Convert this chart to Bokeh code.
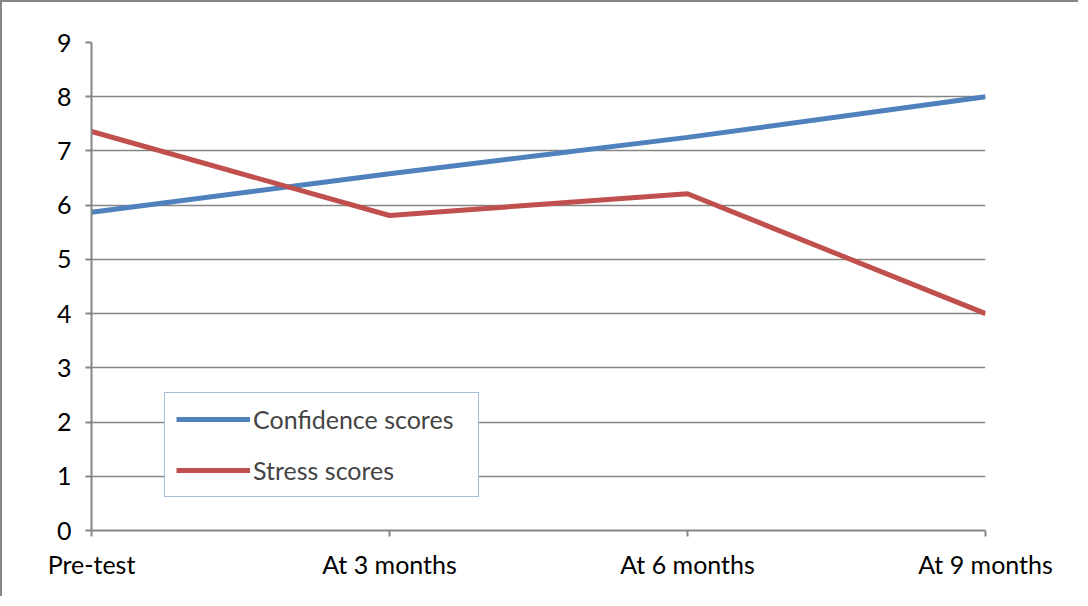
from bokeh.plotting import figure
from bokeh.models import Legend, LegendItem, FixedTicker, Range1d
from bokeh.embed import file_html
from bokeh.resources import INLINE

categories = ["Pre-test", "At 3 months", "At 6 months", "At 9 months"]
confidence = [5.87, 6.58, 7.25, 8.0]
stress = [7.36, 5.81, 6.21, 4.0]
y_ticks = [0, 1, 2, 3, 4, 5, 6, 7, 8, 9]

FONT = "Lato"
GRAY = "#868686"

xs = list(range(len(categories)))

p = figure(width=1078, height=596, output_backend="svg", toolbar_location=None,
           x_range=Range1d(0, len(categories) - 1), y_range=Range1d(0, 9),
           min_border_left=89, min_border_right=95, min_border_top=40, min_border_bottom=68)
p.styles = {"border-left": f"2px solid {GRAY}", "border-top": f"2px solid {GRAY}"}
p.outline_line_color = None

p.xaxis.ticker = FixedTicker(ticks=xs)
p.xaxis.major_label_overrides = {i: c for i, c in enumerate(categories)}
p.yaxis.ticker = FixedTicker(ticks=y_ticks)
for ax in (p.xaxis[0], p.yaxis[0]):
    ax.axis_line_color = GRAY
    ax.axis_line_width = 2
    ax.major_tick_line_color = GRAY
    ax.major_tick_line_width = 2
    ax.major_tick_out = 6
    ax.major_tick_in = 0
    ax.minor_tick_line_color = None
    ax.major_label_text_font = FONT
    ax.major_label_text_font_size = "25px"
    ax.major_label_text_color = "black"
p.xaxis.major_label_standoff = 12
p.yaxis.major_label_standoff = 14

p.xgrid.grid_line_color = None
p.ygrid.grid_line_color = GRAY
p.ygrid.grid_line_width = 1.5
p.ygrid.ticker = FixedTicker(ticks=y_ticks)

r1 = p.line(xs, confidence, line_color="#4f81bd", line_width=5)
r2 = p.line(xs, stress, line_color="#c0504d", line_width=5)

legend = Legend(items=[LegendItem(label="Confidence scores", renderers=[r1]),
                       LegendItem(label="Stress scores", renderers=[r2])],
                location=(73, 33), orientation="vertical",
                border_line_color="#4a7ebb", border_line_width=1.5,
                background_fill_color="white", background_fill_alpha=1,
                label_text_font=FONT, label_text_font_size="25px",
                glyph_width=74, glyph_height=20, label_height=20, label_width=214,
                label_standoff=3, spacing=21, padding=11, margin=0)
p.add_layout(legend)

open("out.html", "w").write(file_html(p, INLINE))
